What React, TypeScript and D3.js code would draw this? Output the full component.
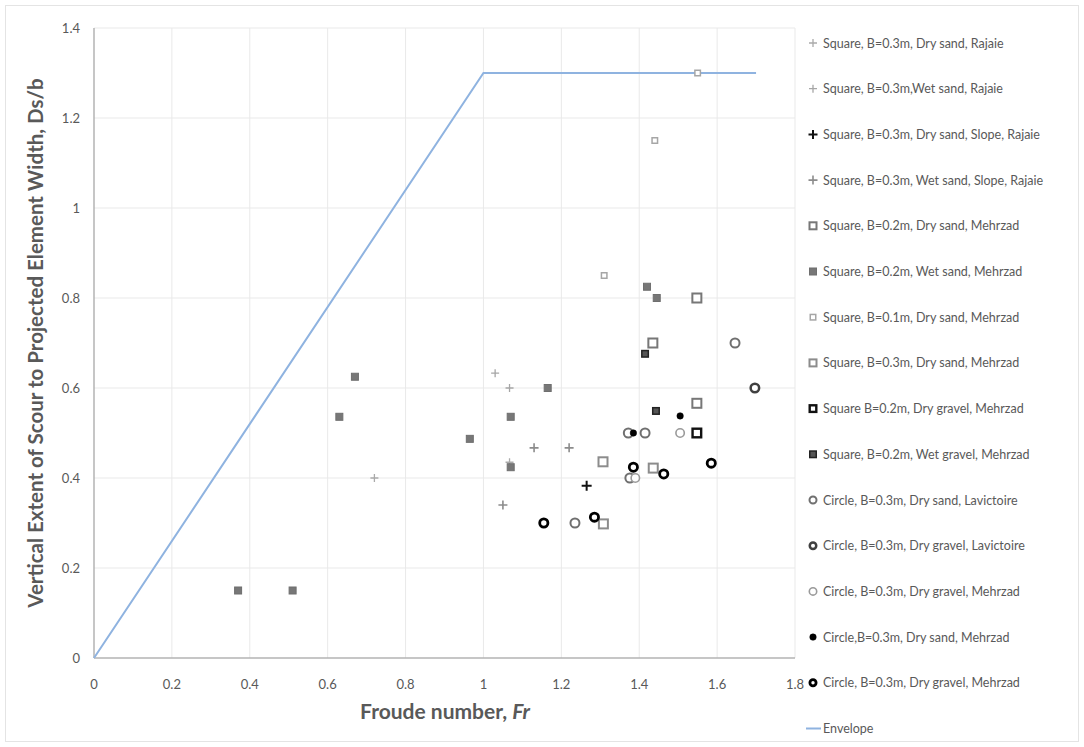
import React from "react";
import * as d3 from "d3";

// envelope line
const envelopeFr = [0, 1, 1.7];
const envelopeDs = [0, 1.3, 1.3];

// series: [Fr, Ds/b]
const rajaieDrySand: [number, number][] = [[0.72, 0.4], [1.067, 0.435]];
const rajaieWetSand: [number, number][] = [[1.03, 0.633], [1.067, 0.6]];
const rajaieDrySlope: [number, number][] = [[1.265, 0.383]];
const rajaieWetSlope: [number, number][] = [[1.05, 0.34], [1.13, 0.467], [1.22, 0.467]];
const sq02DrySand: [number, number][] = [[1.548, 0.8], [1.435, 0.7], [1.548, 0.566]];
const sq02WetSand: [number, number][] = [
  [0.37, 0.15], [0.51, 0.15], [0.63, 0.536], [0.67, 0.625], [0.965, 0.487],
  [1.07, 0.536], [1.07, 0.424], [1.165, 0.6], [1.42, 0.825], [1.445, 0.8],
];
const sq01DrySand: [number, number][] = [[1.31, 0.85], [1.44, 1.15], [1.55, 1.3]];
const sq03DrySand: [number, number][] = [[1.307, 0.436], [1.436, 0.422], [1.308, 0.298]];
const sq02DryGravel: [number, number][] = [[1.548, 0.5]];
const sq02WetGravel: [number, number][] = [[1.415, 0.676], [1.443, 0.549]];
const cirLavDrySand: [number, number][] = [[1.646, 0.7], [1.372, 0.5], [1.415, 0.5], [1.235, 0.3], [1.376, 0.4]];
const cirLavDryGravel: [number, number][] = [[1.697, 0.6]];
const cirMehDryGravelLight: [number, number][] = [[1.505, 0.5], [1.39, 0.4]];
const cirMehDrySand: [number, number][] = [[1.505, 0.538], [1.385, 0.5]];
const cirMehDryGravel: [number, number][] = [[1.385, 0.424], [1.463, 0.409], [1.585, 0.433], [1.285, 0.313], [1.155, 0.3]];

const xTicks = [0, 0.2, 0.4, 0.6, 0.8, 1, 1.2, 1.4, 1.6, 1.8];
const yTicks = [0, 0.2, 0.4, 0.6, 0.8, 1, 1.2, 1.4];

type Style = { shape: "plus" | "square" | "circle" | "line"; size: number; stroke: string; sw: number; fill: string };

const series: { name: string; data: [number, number][]; style: Style }[] = [
  { name: "Square, B=0.3m, Dry sand, Rajaie", data: rajaieDrySand, style: { shape: "plus", size: 8, stroke: "#aaaaaa", sw: 1.3, fill: "none" } },
  { name: "Square, B=0.3m,Wet sand, Rajaie", data: rajaieWetSand, style: { shape: "plus", size: 8, stroke: "#a6a6a6", sw: 1.3, fill: "none" } },
  { name: "Square, B=0.3m, Dry sand, Slope, Rajaie", data: rajaieDrySlope, style: { shape: "plus", size: 10, stroke: "#111111", sw: 2, fill: "none" } },
  { name: "Square, B=0.3m, Wet sand, Slope, Rajaie", data: rajaieWetSlope, style: { shape: "plus", size: 9, stroke: "#8c8c8c", sw: 1.6, fill: "none" } },
  { name: "Square, B=0.2m, Dry sand, Mehrzad", data: sq02DrySand, style: { shape: "square", size: 11, stroke: "#777777", sw: 2, fill: "#ffffff" } },
  { name: "Square, B=0.2m, Wet sand, Mehrzad", data: sq02WetSand, style: { shape: "square", size: 8, stroke: "#6f6f6f", sw: 1, fill: "#777777" } },
  { name: "Square, B=0.1m, Dry sand, Mehrzad", data: sq01DrySand, style: { shape: "square", size: 7, stroke: "#a6a6a6", sw: 1.5, fill: "#ffffff" } },
  { name: "Square, B=0.3m, Dry sand, Mehrzad", data: sq03DrySand, style: { shape: "square", size: 11, stroke: "#8c8c8c", sw: 2, fill: "#ffffff" } },
  { name: "Square B=0.2m, Dry gravel, Mehrzad", data: sq02DryGravel, style: { shape: "square", size: 11, stroke: "#111111", sw: 2.4, fill: "#ffffff" } },
  { name: "Square, B=0.2m, Wet gravel, Mehrzad", data: sq02WetGravel, style: { shape: "square", size: 8, stroke: "#222222", sw: 1.5, fill: "#555555" } },
  { name: "Circle, B=0.3m, Dry sand, Lavictoire", data: cirLavDrySand, style: { shape: "circle", size: 11, stroke: "#707070", sw: 2, fill: "#ffffff" } },
  { name: "Circle, B=0.3m, Dry gravel, Lavictoire", data: cirLavDryGravel, style: { shape: "circle", size: 11, stroke: "#404040", sw: 2.5, fill: "#ffffff" } },
  { name: "Circle, B=0.3m, Dry gravel, Mehrzad", data: cirMehDryGravelLight, style: { shape: "circle", size: 10, stroke: "#9a9a9a", sw: 1.6, fill: "#ffffff" } },
  { name: "Circle,B=0.3m, Dry sand, Mehrzad", data: cirMehDrySand, style: { shape: "circle", size: 7, stroke: "#000000", sw: 0.5, fill: "#000000" } },
  { name: "Circle, B=0.3m, Dry gravel, Mehrzad", data: cirMehDryGravel, style: { shape: "circle", size: 11, stroke: "#000000", sw: 2.8, fill: "#ffffff" } },
];

const W = 1084;
const H = 747;
const margin = { left: 94, top: 28, right: 289, bottom: 89 };
const textColor = "#595959";
const font = "Lato, 'Open Sans', sans-serif";

function Marker({ cx, cy, s }: { cx: number; cy: number; s: Style }) {
  const h = s.size / 2;
  if (s.shape === "plus") {
    return (
      <path d={`M${cx - h},${cy}H${cx + h}M${cx},${cy - h}V${cy + h}`} stroke={s.stroke} strokeWidth={s.sw} fill="none" />
    );
  }
  if (s.shape === "square") {
    const i = h - s.sw / 2;
    return <rect x={cx - i} y={cy - i} width={i * 2} height={i * 2} fill={s.fill} stroke={s.stroke} strokeWidth={s.sw} />;
  }
  const r = h - s.sw / 2;
  return <circle cx={cx} cy={cy} r={r} fill={s.fill} stroke={s.stroke} strokeWidth={s.sw} />;
}

export default function App() {
  const x = d3.scaleLinear().domain([0, 1.8]).range([margin.left, W - margin.right]);
  const y = d3.scaleLinear().domain([0, 1.4]).range([H - margin.bottom, margin.top]);
  const env = d3.line<number>().x((d) => x(d)).y((_, i) => y(envelopeDs[i]))(envelopeFr) || "";

  const legendX = 813;
  const legendY0 = 43;
  const legendStep = 45.7;

  return (
    <svg width={W} height={H} style={{ position: "absolute", left: 0, top: 0, background: "#fff" }} fontFamily={font}>
      <rect x={5.5} y={5.5} width={W - 11} height={H - 11} fill="none" stroke="#e4e4e4" />
      {/* grid */}
      {xTicks.slice(1).map((t) => (
        <line key={"gx" + t} x1={x(t)} x2={x(t)} y1={y(1.4)} y2={y(0)} stroke="#e9e9e9" strokeWidth={1} />
      ))}
      {yTicks.slice(1).map((t) => (
        <line key={"gy" + t} x1={x(0)} x2={x(1.8)} y1={y(t)} y2={y(t)} stroke="#e9e9e9" strokeWidth={1} />
      ))}
      {/* axes */}
      <line x1={x(0)} x2={x(0)} y1={y(1.4)} y2={y(0)} stroke="#b3b3b3" strokeWidth={1.5} />
      <line x1={x(0)} x2={x(1.8)} y1={y(0)} y2={y(0)} stroke="#b3b3b3" strokeWidth={1.5} />
      {xTicks.map((t) => (
        <text key={"tx" + t} x={x(t)} y={y(0) + 31} textAnchor="middle" fontSize={13} fill={textColor}>
          {d3.format("~g")(t)}
        </text>
      ))}
      {yTicks.map((t) => (
        <text key={"ty" + t} x={x(0) - 14} y={y(t) + 5} textAnchor="end" fontSize={13} fill={textColor}>
          {d3.format("~g")(t)}
        </text>
      ))}
      {/* envelope */}
      <path d={env} fill="none" stroke="#8fb3e0" strokeWidth={2} />
      {/* points */}
      {series.map((s) =>
        s.data.map(([fr, ds], i) => <Marker key={s.name + i} cx={x(fr)} cy={y(ds)} s={s.style} />)
      )}
      {/* titles */}
      <text x={445} y={719} textAnchor="middle" fontSize={21} fontWeight={700} fill={textColor}>
        Froude number, <tspan fontStyle="italic">Fr</tspan>
      </text>
      <text transform={`translate(43,343) rotate(-90)`} textAnchor="middle" fontSize={20.5} fontWeight={700} fill={textColor}>
        Vertical Extent of Scour to Projected Element Width, Ds/b
      </text>
      {/* legend */}
      {series.map((s, i) => (
        <g key={"lg" + i}>
          <Marker cx={legendX} cy={legendY0 + i * legendStep} s={{ ...s.style, size: Math.min(s.style.size, 9) }} />
          <text x={legendX + 10} y={legendY0 + i * legendStep + 4.5} fontSize={12.5} fill={textColor}>
            {s.name}
          </text>
        </g>
      ))}
      <line x1={legendX - 7} x2={legendX + 8} y1={legendY0 + 15 * legendStep} y2={legendY0 + 15 * legendStep} stroke="#8fb3e0" strokeWidth={2} />
      <text x={legendX + 10} y={legendY0 + 15 * legendStep + 4.5} fontSize={12.5} fill={textColor}>
        Envelope
      </text>
    </svg>
  );
}
